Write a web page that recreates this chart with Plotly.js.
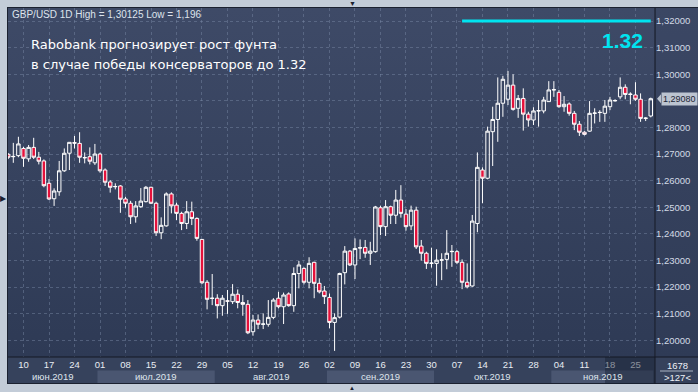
<!DOCTYPE html>
<html><head><meta charset="utf-8">
<script src="https://cdn.plot.ly/plotly-3.0.1.min.js"></script>
<style>
html,body{margin:0;padding:0;background:#c3ccd8;width:698px;height:392px;overflow:hidden;}
#panel{position:absolute;left:7px;top:7px;width:691px;height:377px;background:#36425c;border-left:1px solid #1b2130;border-top:1px solid #1b2130;border-bottom:1px solid #1b2130;box-sizing:border-box;}
#plotbg{position:absolute;left:8px;top:8px;width:647px;height:349px;background:linear-gradient(#3e4a67,#2e3a55);}
#rightbg{position:absolute;left:656px;top:8px;width:42px;height:349px;background:linear-gradient(#3b4764,#2f3b56);}
#chart{position:absolute;left:0;top:0;width:698px;height:392px;}
</style></head>
<body>
<div id="panel"></div><div id="plotbg"></div><div id="rightbg"></div>
<div id="chart"></div>
<script>
// ---- data ----
const dates = [
'2019-06-05','2019-06-06','2019-06-07','2019-06-10','2019-06-11','2019-06-12','2019-06-13','2019-06-14','2019-06-17','2019-06-18','2019-06-19','2019-06-20','2019-06-21','2019-06-24','2019-06-25','2019-06-26','2019-06-27','2019-06-28',
'2019-07-01','2019-07-02','2019-07-03','2019-07-04','2019-07-05','2019-07-08','2019-07-09','2019-07-10','2019-07-11','2019-07-12','2019-07-15','2019-07-16','2019-07-17','2019-07-18','2019-07-19','2019-07-22','2019-07-23','2019-07-24','2019-07-25','2019-07-26','2019-07-29','2019-07-30','2019-07-31',
'2019-08-01','2019-08-02','2019-08-05','2019-08-06','2019-08-07','2019-08-08','2019-08-09','2019-08-12','2019-08-13','2019-08-14','2019-08-15','2019-08-16','2019-08-19','2019-08-20','2019-08-21','2019-08-22','2019-08-23','2019-08-26','2019-08-27','2019-08-28','2019-08-29','2019-08-30',
'2019-09-02','2019-09-03','2019-09-04','2019-09-05','2019-09-06','2019-09-09','2019-09-10','2019-09-11','2019-09-12','2019-09-13','2019-09-16','2019-09-17','2019-09-18','2019-09-19','2019-09-20','2019-09-23','2019-09-24','2019-09-25','2019-09-26','2019-09-27','2019-09-30',
'2019-10-01','2019-10-02','2019-10-03','2019-10-04','2019-10-07','2019-10-08','2019-10-09','2019-10-10','2019-10-11','2019-10-14','2019-10-15','2019-10-16','2019-10-17','2019-10-18','2019-10-21','2019-10-22','2019-10-23','2019-10-24','2019-10-25','2019-10-28','2019-10-29','2019-10-30','2019-10-31',
'2019-11-01','2019-11-04','2019-11-05','2019-11-06','2019-11-07','2019-11-08','2019-11-11','2019-11-12','2019-11-13','2019-11-14','2019-11-15','2019-11-18','2019-11-19','2019-11-20','2019-11-21','2019-11-22','2019-11-25','2019-11-26','2019-11-27','2019-11-28'];

const open = [
1.2699,1.2690,1.2694,1.2721,1.2682,1.2725,1.2688,1.2674,1.2590,1.2532,1.2558,1.2637,1.2703,1.2743,1.2740,1.2687,1.2690,1.2667,
1.2700,1.2640,1.2595,1.2577,1.2580,1.2531,1.2515,1.2464,1.2502,1.2521,1.2575,1.2515,1.2404,1.2430,1.2550,1.2508,1.2477,1.2439,1.2483,1.2458,1.2379,1.2218,1.2157,
1.2158,1.2130,1.2148,1.2145,1.2173,1.2142,1.2135,1.2032,1.2076,1.2060,1.2060,1.2086,1.2158,1.2126,1.2174,1.2130,1.2251,1.2270,1.2218,1.2293,1.2214,1.2185,
1.2161,1.2067,1.2087,1.2254,1.2335,1.2283,1.2348,1.2349,1.2327,1.2333,1.2498,1.2427,1.2502,1.2470,1.2527,1.2474,1.2430,1.2489,1.2354,1.2327,1.2289,
1.2289,1.2301,1.2304,1.2333,1.2333,1.2293,1.2218,1.2204,1.2439,1.2640,1.2609,1.2784,1.2830,1.2891,1.2906,1.2959,1.2872,1.2909,1.2850,1.2828,1.2862,1.2862,1.2897,
1.2941,1.2932,1.2878,1.2888,1.2853,1.2812,1.2782,1.2786,1.2853,1.2857,1.2853,1.2878,1.2900,1.2915,1.2951,1.2924,1.2922,1.2906,1.2834,1.2843];
const high = [
1.2704,1.2742,1.2765,1.2727,1.2734,1.2761,1.2708,1.2680,1.2606,1.2571,1.2674,1.2721,1.2745,1.2768,1.2782,1.2706,1.2725,1.2738,
1.2705,1.2646,1.2602,1.2590,1.2583,1.2539,1.2524,1.2523,1.2572,1.2580,1.2577,1.2521,1.2462,1.2556,1.2556,1.2517,1.2483,1.2523,1.2521,1.2462,1.2380,1.2226,1.2249,
1.2173,1.2170,1.2189,1.2211,1.2191,1.2170,1.2151,1.2095,1.2097,1.2101,1.2151,1.2158,1.2182,1.2179,1.2180,1.2274,1.2298,1.2274,1.2312,1.2295,1.2233,1.2204,
1.2176,1.2101,1.2254,1.2354,1.2339,1.2383,1.2379,1.2377,1.2370,1.2505,1.2506,1.2527,1.2506,1.2565,1.2583,1.2493,1.2506,1.2502,1.2377,1.2333,1.2348,
1.2342,1.2327,1.2414,1.2358,1.2339,1.2304,1.2289,1.2471,1.2706,1.2650,1.2803,1.2878,1.2988,1.2994,1.30125,1.3000,1.2922,1.2947,1.2859,1.2876,1.2903,1.2915,1.2974,
1.2974,1.2941,1.2918,1.2894,1.2862,1.2824,1.2786,1.2899,1.2872,1.2865,1.2903,1.2915,1.2906,1.2988,1.2962,1.2932,1.2970,1.2928,1.2838,1.2912];
const low = [
1.2681,1.2667,1.2688,1.2652,1.2671,1.2681,1.2661,1.2575,1.2527,1.2505,1.2543,1.2633,1.2640,1.2721,1.2667,1.2665,1.2661,1.2659,
1.2630,1.2580,1.2555,1.2567,1.2479,1.2498,1.2437,1.2442,1.2498,1.2518,1.2512,1.2392,1.2380,1.2427,1.2477,1.2452,1.2414,1.2418,1.2433,1.2374,1.2211,1.2116,1.2132,
1.2082,1.2092,1.2099,1.2136,1.2120,1.2092,1.2023,1.2017,1.2042,1.2042,1.2051,1.2079,1.2120,1.2061,1.2126,1.2107,1.2195,1.2210,1.2195,1.2158,1.2176,1.2136,
1.2045,1.1960,1.2082,1.2210,1.2279,1.2230,1.2305,1.2310,1.2283,1.2329,1.2395,1.2392,1.2437,1.2437,1.2461,1.2412,1.2414,1.2343,1.2299,1.2268,1.2273,
1.2205,1.2226,1.2267,1.2276,1.2286,1.2192,1.2195,1.2201,1.2406,1.2515,1.2605,1.2655,1.2746,1.2840,1.2884,1.2863,1.2836,1.2788,1.2803,1.2809,1.2803,1.2853,1.2896,
1.2915,1.2874,1.2859,1.2844,1.2790,1.2768,1.2770,1.2784,1.2815,1.2821,1.2821,1.2865,1.2897,1.2906,1.2906,1.2887,1.2900,1.2821,1.2824,1.2838];
const close = [
1.2688,1.2691,1.2738,1.2684,1.2725,1.2688,1.2673,1.2581,1.2531,1.2561,1.2637,1.2703,1.2744,1.2741,1.2688,1.2686,1.2673,1.2700,
1.2637,1.2594,1.2575,1.2578,1.2530,1.2515,1.2464,1.2505,1.2523,1.2575,1.2515,1.2404,1.2432,1.2550,1.2505,1.2477,1.2439,1.2483,1.2458,1.2383,1.2216,1.2154,1.2158,
1.2130,1.2158,1.2147,1.2173,1.2142,1.2135,1.2028,1.2076,1.2060,1.2061,1.2086,1.2151,1.2126,1.2170,1.2130,1.2251,1.2283,1.2218,1.2289,1.2214,1.2182,1.2164,
1.2067,1.2085,1.2251,1.2335,1.2283,1.2345,1.2347,1.2327,1.2335,1.2501,1.2427,1.2502,1.2470,1.2527,1.2477,1.2427,1.2489,1.2351,1.2327,1.2289,1.2290,
1.2301,1.2302,1.2327,1.2334,1.2293,1.2218,1.2201,1.2448,1.2650,1.2609,1.2786,1.2830,1.2891,1.2981,1.2959,1.2868,1.2909,1.2850,1.2828,1.2862,1.2863,1.2903,1.2941,
1.2942,1.2878,1.2887,1.2853,1.2812,1.2782,1.2774,1.2853,1.2854,1.2856,1.2880,1.2903,1.2901,1.2951,1.2924,1.2925,1.2906,1.2834,1.2835,1.2908];

const weekTicks = ['2019-06-10','2019-06-17','2019-06-24','2019-07-01','2019-07-08','2019-07-15','2019-07-22','2019-07-29','2019-08-05','2019-08-12','2019-08-19','2019-08-26','2019-09-02','2019-09-09','2019-09-16','2019-09-23','2019-09-30','2019-10-07','2019-10-14','2019-10-21','2019-10-28','2019-11-04','2019-11-11','2019-11-18','2019-11-25'];
const weekLabels = ['10','17','24','01','08','15','22','29','05','12','19','26','02','09','16','23','30','07','14','21','28','04','11','18','25'];
const monthStarts = ['2019-06-05','2019-07-01','2019-08-01','2019-09-02','2019-10-01','2019-11-01'];
const monthLabels = ['июн.2019','июл.2019','авг.2019','сен.2019','окт.2019','ноя.2019'];
const yTicks = [1.20,1.21,1.22,1.23,1.24,1.25,1.26,1.27,1.28,1.29,1.30,1.31,1.32];
const yTickHidden = [1.29];   // covered by the last-price label
const targetX = ['2019-10-08','2019-11-28'];
const targetY = [1.32,1.32];
const lastPrice = 1.2908;
const headerText = 'GBP/USD 1D High = 1,30125 Low = 1,196';
const noteLines = ['Rabobank прогнозирует рост фунта','в случае победы консерваторов до 1.32'];
const targetLabel = '1.32';
const barCount = '1678';
const visibleCount = '>127<';

// ---- layout helpers ----
const W = 647, H = 349;            // plot area size in px
const px = v => v / W, py = v => v / H;
const xMin = -0.04, xMax = 126.83;
const fmt = v => v.toFixed(5).replace('.', ',');

const fontAx = 'Liberation Sans, Arial, sans-serif';
const shapes = [];
const annotations = [];

// month bands & labels
for (let m = 0; m < monthStarts.length; m++) {
  const a = dates.indexOf(monthStarts[m]);
  const b = m + 1 < monthStarts.length ? dates.indexOf(monthStarts[m + 1]) - 1 : dates.length - 1;
  const x0 = Math.max(a - 0.5, xMin), x1 = Math.min(b + 0.5, xMax);
  if (m % 2 === 1) {
    shapes.push({type:'rect', xref:'x', yref:'paper', x0:x0, x1:x1, y0:-py(26), y1:-py(13.5),
      fillcolor:'#4a5671', line:{width:0}, layer:'below'});
  }
  annotations.push({xref:'x', yref:'paper', x:(x0 + x1) / 2, y:-py(19.5), text:monthLabels[m],
    showarrow:false, xanchor:'center', yanchor:'middle', font:{family:fontAx, size:9.5, color:'#dfe4ec'}});
}
// selection overlay on the axis (right)
shapes.push({type:'rect', xref:'paper', yref:'paper', x0:px(597), x1:1, y0:-py(27), y1:0,
  fillcolor:'rgba(22,30,48,0.45)', line:{width:0}, layer:'above'});
// black frame lines
shapes.push({type:'line', xref:'paper', yref:'paper', x0:1, x1:1, y0:-py(27), y1:1, line:{color:'#141925', width:1}});
shapes.push({type:'line', xref:'paper', yref:'paper', x0:0, x1:px(690), y0:0, y1:0, line:{color:'#141925', width:1}});
// counter separator
shapes.push({type:'line', xref:'paper', yref:'paper', x0:px(652), x1:px(685), y0:-py(14), y1:-py(14), line:{color:'#aab3c2', width:1}});
// last price pointer
shapes.push({type:'path', xref:'paper', xsizemode:'pixel', xanchor:1, yref:'y', ysizemode:'pixel', yanchor:lastPrice,
  path:'M2,0 L6,-4.5 L6,4.5 Z', fillcolor:'#bcc4d0', line:{width:0}});

annotations.push({xref:'paper', yref:'paper', x:px(2), y:1 - py(7), text:headerText, showarrow:false,
  xanchor:'left', yanchor:'middle', font:{family:fontAx, size:10, color:'#dde3ec'}});
annotations.push({xref:'paper', yref:'paper', x:px(21), y:1 - py(36), text:noteLines[0], showarrow:false,
  xanchor:'left', yanchor:'middle', font:{family:'DejaVu Sans, sans-serif', size:13, color:'#ffffff'}});
annotations.push({xref:'paper', yref:'paper', x:px(21), y:1 - py(56.5), text:noteLines[1], showarrow:false,
  xanchor:'left', yanchor:'middle', font:{family:'DejaVu Sans, sans-serif', size:13, color:'#ffffff'}});
annotations.push({xref:'paper', yref:'paper', x:px(637), y:1 - py(32), text:'<b>' + targetLabel + '</b>', showarrow:false,
  xanchor:'right', yanchor:'middle', font:{family:fontAx, size:21, color:'#00e4f0'}});
annotations.push({xref:'paper', yref:'y', x:1, xshift:6, y:lastPrice, text:fmt(lastPrice),
  showarrow:false, xanchor:'left', yanchor:'middle', bgcolor:'#bcc4d0', borderpad:1,
  font:{family:fontAx, size:9, color:'#1d2536'}});
annotations.push({xref:'paper', yref:'paper', x:px(669), y:-py(8), text:barCount, showarrow:false,
  xanchor:'center', yanchor:'middle', font:{family:fontAx, size:9.5, color:'#eef1f6'}});
annotations.push({xref:'paper', yref:'paper', x:px(669), y:-py(20), text:visibleCount, showarrow:false,
  xanchor:'center', yanchor:'middle', font:{family:fontAx, size:9.5, color:'#eef1f6'}});
// frame markers
annotations.push({xref:'paper', yref:'paper', x:px(344), y:1 + py(4.5), text:'▼', showarrow:false,
  xanchor:'center', yanchor:'middle', font:{size:7, color:'#1b2130'}});
annotations.push({xref:'paper', yref:'paper', x:px(344), y:-py(31), text:'▲', showarrow:false,
  xanchor:'center', yanchor:'middle', font:{size:6, color:'#1b2130'}});
annotations.push({xref:'paper', yref:'paper', x:-px(4.5), y:1 - py(189), text:'▶', showarrow:false,
  xanchor:'center', yanchor:'middle', font:{size:8, color:'#1b2130'}});

const traces = [
  {type:'candlestick', x:dates, open:open, high:high, low:low, close:close,
   increasing:{line:{color:'#ffffff', width:1}, fillcolor:'rgba(0,0,0,0)'},
   decreasing:{line:{color:'#ffffff', width:1}, fillcolor:'#e5113b'},
   whiskerwidth:0, hoverinfo:'skip', showlegend:false},
  {type:'scatter', mode:'lines', x:targetX, y:targetY, line:{color:'#00e4f0', width:3},
   hoverinfo:'skip', showlegend:false}
];

const layout = {
  width:698, height:392,
  margin:{l:8, r:43, t:8, b:35},
  paper_bgcolor:'rgba(0,0,0,0)', plot_bgcolor:'rgba(0,0,0,0)',
  separators:', ',
  showlegend:false,
  boxmode:'overlay', boxgap:0, boxgroupgap:0.32,
  xaxis:{type:'category', range:[xMin, xMax], rangeslider:{visible:false},
    tickmode:'array', tickvals:weekTicks, ticktext:weekLabels,
    showgrid:true, gridcolor:'rgba(125,140,168,0.45)', griddash:'3px,3px', gridwidth:1,
    ticks:'', showline:false, zeroline:false, automargin:false,
    tickfont:{family:fontAx, size:9.5, color:'#e8ecf2'}, ticklabelstandoff:0, fixedrange:true},
  yaxis:{side:'right', range:[1.1937, 1.3249], tickmode:'array', tickvals:yTicks,
    ticktext:yTicks.map(v => yTickHidden.includes(v) ? '' : fmt(v)),
    showgrid:true, gridcolor:'rgba(125,140,168,0.45)', griddash:'3px,3px', gridwidth:1,
    ticks:'', showline:false, zeroline:false, automargin:false,
    tickfont:{family:fontAx, size:9.5, color:'#d3dae6'}, fixedrange:true},
  shapes:shapes, annotations:annotations
};

Plotly.newPlot('chart', traces, layout, {staticPlot:true, displayModeBar:false});
</script>
</body></html>
